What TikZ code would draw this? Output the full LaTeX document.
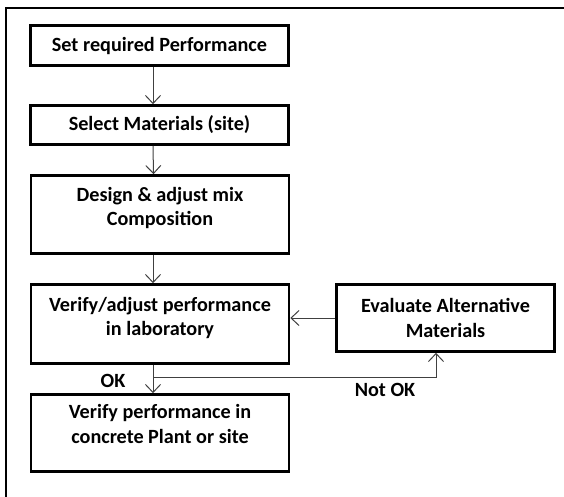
\documentclass[tikz,border=0pt]{standalone}
\usepackage{fontspec}
\setmainfont{Carlito}
\usetikzlibrary{arrows.meta}

\begin{document}
\begin{tikzpicture}[x=1pt,y=-1pt,
  stage/.style={draw,line width=2.6pt,minimum width=258pt,align=center,inner sep=0pt,
    font=\bfseries\fontsize{20.2}{24.5}\selectfont},
  flow/.style={draw=black!75,line width=1pt,-{Straight Barb[length=8pt,width=15pt]}},
  tag/.style={font=\bfseries\fontsize{20.2}{24.5}\selectfont}]
\useasboundingbox (0,0) rectangle (564,496);
\clip (0,0) rectangle (564,496);
\draw[line width=2pt] (6,520)--(6,8)--(580,8);
\node[stage,minimum height=40pt] (perf) at (159.5,45.5) {Set required Performance};
\node[stage,minimum height=39pt] (mat) at (159.5,125) {Select Materials (site)};
\node[stage,minimum height=78pt,text depth=16pt] (mix) at (160,214.5) {Design \& adjust mix\\Composition};
\node[stage,minimum height=79pt,text depth=15pt] (lab) at (160,324) {Verify/adjust performance\\in laboratory};
\node[stage,minimum height=77pt,text depth=18pt] (site) at (160,433) {Verify performance in\\concrete Plant or site};
\node[stage,minimum width=218pt,minimum height=67pt] (alt) at (445.5,318) {Evaluate Alternative\\Materials};
\coordinate (split) at (153,377);
\draw[flow] ([xshift=-6.5pt]perf.south)--([xshift=-6.5pt]mat.north);
\draw[flow] ([xshift=-6.5pt]mat.south)--([xshift=-6.5pt]mix.north);
\draw[flow] ([xshift=-7pt]mix.south)--([xshift=-7pt]lab.north);
\draw[flow] ([xshift=-7pt]lab.south)--([xshift=-7pt]site.north);
\draw[flow] (split)-|([xshift=-9.5pt]alt.south);
\draw[flow] (alt.west)--(alt.west-|lab.east);
\node[tag] (ok) at (113,381) {OK};
\node[tag] (notok) at (385,390) {Not OK};
\end{tikzpicture}
\end{document}
